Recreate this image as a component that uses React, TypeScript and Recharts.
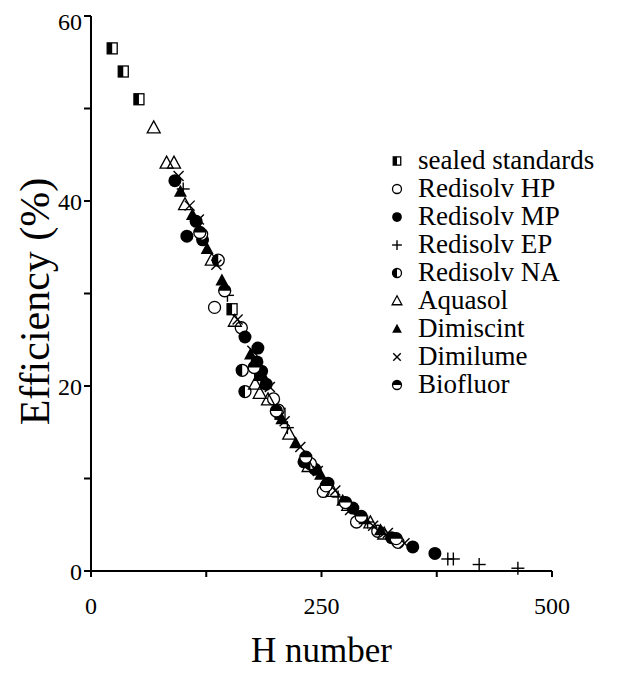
import { Legend, Scatter, ScatterChart, XAxis, YAxis } from 'recharts';

const hTicks = [0, 125, 250, 375, 500];
const hLabels = [0, 250, 500];
const effTicks = [0, 10, 20, 30, 40, 50, 60];
const effLabels = [0, 20, 40, 60];

// [H number, efficiency %]
const sealedStandards = [[23, 56.5], [35, 54], [52, 51], [153, 28.3], [183, 21.2], [205, 17]];
const redisolvHP = [[134, 28.5], [163, 26.3], [198, 18.6], [252, 8.6], [288, 5.3], [311, 4.3], [333, 3.1]];
const redisolvMP = [
  [91, 42.2], [104, 36.2], [114, 37.8], [121, 35.8], [167, 25.3], [181, 24.1], [180, 22.6], [185, 21.6],
  [190, 20.2], [231, 11.8], [243, 11], [257, 9.5], [284, 6.8], [326, 3.6], [349, 2.6], [373, 1.9],
];
const redisolvEP = [[100, 41.3], [148, 29.8], [213, 15.5], [268, 8], [300, 5.3], [387, 1.3], [393, 1.3], [421, 0.7], [463, 0.3]];
const redisolvNA = [[120, 36.4], [138, 33.6], [164, 21.7], [167, 19.4], [203, 17.4], [238, 11.6]];
const aquasol = [
  [68, 47.9], [82, 44.1], [90, 44.1], [102, 39.6], [131, 33.6], [156, 27], [178, 20.2], [183, 19.2],
  [192, 18.5], [215, 14.8], [236, 11.3], [262, 8.6], [279, 7.1], [303, 5.2], [318, 4],
];
const dimiscint = [[97, 41], [110, 38.5], [126, 34.8], [142, 31.4], [173, 23.4], [186, 21.2], [207, 16.4], [222, 13.8], [249, 10.4], [273, 7.6], [297, 5.6], [314, 4.4]];
const dimilume = [
  [95, 42.7], [107, 39.5], [117, 38], [136, 33.1], [159, 27.2], [175, 23.8], [194, 19.9], [210, 16.2],
  [227, 13.4], [246, 10.8], [265, 8.7], [281, 6.6], [306, 4.9], [322, 4.1], [340, 3],
];
const biofluor = [[118, 36.6], [145, 30.3], [177, 22], [201, 17.3], [233, 12.3], [255, 9.2], [276, 7.4], [293, 5.9], [331, 3.5]];

const series = [
  { name: 'sealed standards', kind: 'halfSquare', points: sealedStandards },
  { name: 'Redisolv HP', kind: 'openCircle', points: redisolvHP },
  { name: 'Redisolv MP', kind: 'filledCircle', points: redisolvMP },
  { name: 'Redisolv EP', kind: 'plus', points: redisolvEP },
  { name: 'Redisolv NA', kind: 'leftHalfCircle', points: redisolvNA },
  { name: 'Aquasol', kind: 'openTriangle', points: aquasol },
  { name: 'Dimiscint', kind: 'filledTriangle', points: dimiscint },
  { name: 'Dimilume', kind: 'cross', points: dimilume },
  { name: 'Biofluor', kind: 'topHalfCircle', points: biofluor },
];

const FONT = '"Liberation Serif", "Times New Roman", serif';

function Marker({ kind, cx, cy, s = 1 }: { kind: string; cx: number; cy: number; s?: number }) {
  const k = 'black';
  switch (kind) {
    case 'halfSquare':
      return (
        <g>
          <rect x={cx - 5 * s} y={cy - 5.5 * s} width={10 * s} height={11 * s} fill="white" stroke={k} strokeWidth={1.3} />
          <rect x={cx - 5 * s} y={cy - 5.5 * s} width={5 * s} height={11 * s} fill={k} />
        </g>
      );
    case 'openCircle':
      return <circle cx={cx} cy={cy} r={6 * s} fill="none" stroke={k} strokeWidth={1.3} />;
    case 'filledCircle':
      return <circle cx={cx} cy={cy} r={6.5 * s} fill={k} />;
    case 'plus':
      return (
        <g stroke={k} strokeWidth={1.4}>
          <line x1={cx - 6.5 * s} y1={cy} x2={cx + 6.5 * s} y2={cy} />
          <line x1={cx} y1={cy - 6.5 * s} x2={cx} y2={cy + 6.5 * s} />
        </g>
      );
    case 'leftHalfCircle': {
      const r = 6 * s;
      return (
        <g>
          <circle cx={cx} cy={cy} r={r} fill="white" stroke={k} strokeWidth={1.3} />
          <path d={`M${cx},${cy - r} A${r},${r} 0 0 0 ${cx},${cy + r} Z`} fill={k} />
        </g>
      );
    }
    case 'topHalfCircle': {
      const r = 6 * s;
      return (
        <g>
          <circle cx={cx} cy={cy} r={r} fill="white" stroke={k} strokeWidth={1.3} />
          <path d={`M${cx - r},${cy} A${r},${r} 0 0 1 ${cx + r},${cy} Z`} fill={k} />
        </g>
      );
    }
    case 'openTriangle':
      return (
        <polygon
          points={`${cx},${cy - 7 * s} ${cx + 6.5 * s},${cy + 5 * s} ${cx - 6.5 * s},${cy + 5 * s}`}
          fill="none"
          stroke={k}
          strokeWidth={1.3}
        />
      );
    case 'filledTriangle':
      return <polygon points={`${cx},${cy - 7 * s} ${cx + 6.5 * s},${cy + 5 * s} ${cx - 6.5 * s},${cy + 5 * s}`} fill={k} />;
    case 'cross':
      return (
        <g stroke={k} strokeWidth={1.4}>
          <line x1={cx - 5 * s} y1={cy - 5 * s} x2={cx + 5 * s} y2={cy + 5 * s} />
          <line x1={cx - 5 * s} y1={cy + 5 * s} x2={cx + 5 * s} y2={cy - 5 * s} />
        </g>
      );
    default:
      return null;
  }
}

function LegendBox() {
  return (
    <div style={{ fontFamily: FONT, fontSize: 27, lineHeight: '28px', color: 'black' }}>
      {series.map((ser) => (
        <div key={ser.name} style={{ display: 'flex', alignItems: 'center', height: 28, whiteSpace: 'nowrap' }}>
          <svg width={16} height={16} style={{ marginRight: 13, marginTop: 2 }}>
            <Marker kind={ser.kind} cx={8} cy={8} s={0.75} />
          </svg>
          <span>{ser.name}</span>
        </div>
      ))}
    </div>
  );
}

export default function App() {
  return (
    <div style={{ width: 608, height: 665, background: 'white' }}>
      <ScatterChart width={608} height={665} margin={{ top: 8, right: 64, bottom: 0, left: 0 }}>
        <XAxis
          type="number"
          dataKey="h"
          domain={[0, 500]}
          ticks={hTicks}
          tickFormatter={(v: number) => (hLabels.includes(v) ? String(v) : '')}
          height={102}
          tickSize={6}
          tickMargin={20}
          axisLine={{ stroke: 'black', strokeWidth: 2 }}
          tickLine={{ stroke: 'black', strokeWidth: 2 }}
          tick={{ fill: 'black', fontSize: 24, fontFamily: FONT }}
          label={{
            content: ({ viewBox }: any) => (
              <text x={viewBox.x + viewBox.width / 2} y={viewBox.y + 91} textAnchor="middle" fontFamily={FONT} fontSize={35} fill="black">
                H number
              </text>
            ),
          }}
        />
        <YAxis
          type="number"
          dataKey="e"
          domain={[0, 60]}
          ticks={effTicks}
          tickFormatter={(v: number) => (effLabels.includes(v) ? String(v) : '')}
          width={83}
          tickSize={7}
          tickMargin={2}
          axisLine={{ stroke: 'black', strokeWidth: 2 }}
          tickLine={{ stroke: 'black', strokeWidth: 2 }}
          tick={{ fill: 'black', fontSize: 24, fontFamily: FONT }}
          label={{
            content: ({ viewBox }: any) => {
              const x = viewBox.x + 41;
              const y = viewBox.y + viewBox.height / 2 + 8;
              return (
                <text x={x} y={y} transform={`rotate(-90 ${x} ${y})`} textAnchor="middle" fontFamily={FONT} fontSize={42} fill="black">
                  Efficiency (%)
                </text>
              );
            },
          }}
        />
        <Legend
          layout="vertical"
          align="center"
          verticalAlign="middle"
          wrapperStyle={{ left: 381, top: 138, width: 230 }}
          content={() => <LegendBox />}
        />
        {series.map((ser) => (
          <Scatter
            key={ser.name}
            name={ser.name}
            data={ser.points.map(([h, e]) => ({ h, e }))}
            isAnimationActive={false}
            shape={(p: any) => <Marker kind={ser.kind} cx={p.cx} cy={p.cy} />}
          />
        ))}
      </ScatterChart>
    </div>
  );
}
